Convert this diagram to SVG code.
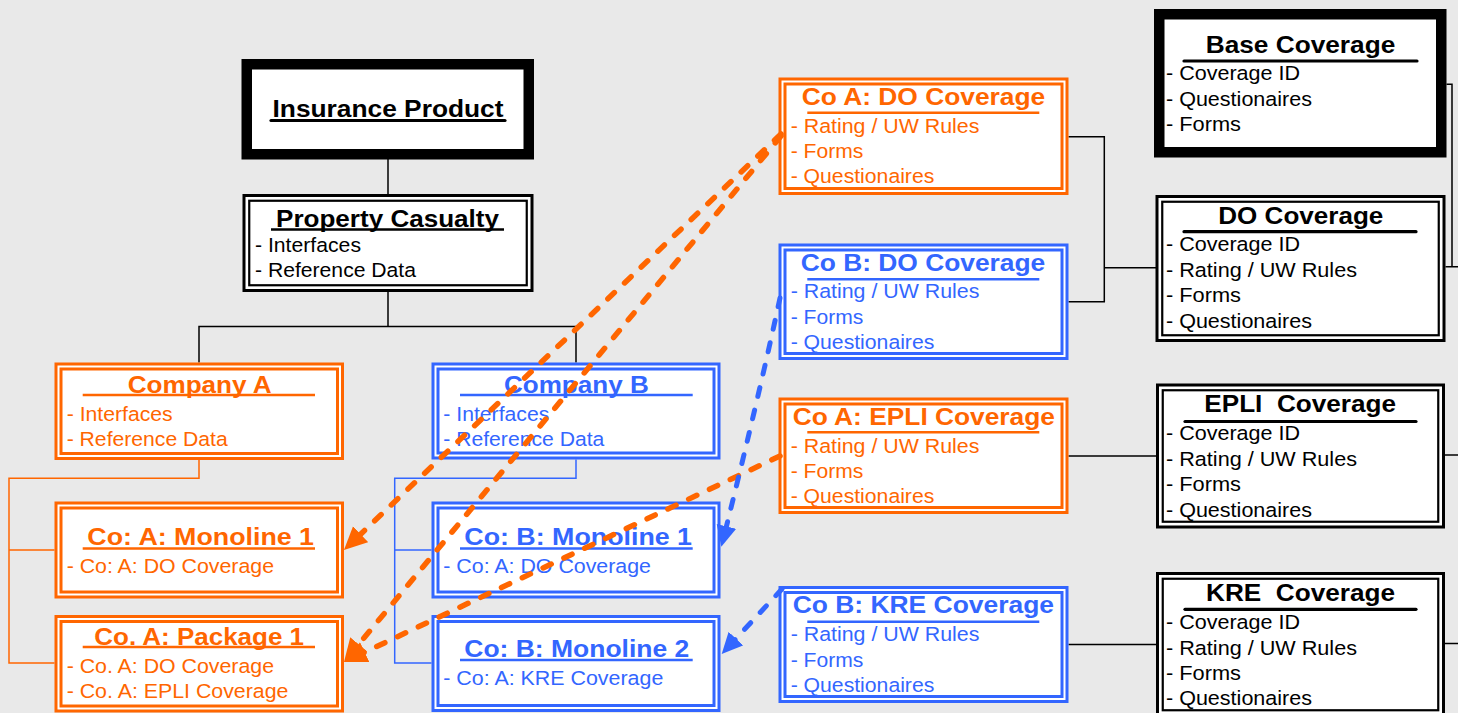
<svg xmlns="http://www.w3.org/2000/svg" width="1458" height="713" viewBox="0 0 1458 713">
  <style>
    text { font-family: "Liberation Sans", Arial, sans-serif; white-space: pre; }
    .ti { font-size: 24px; font-weight: bold; }
    .tc { font-size: 23.5px; font-weight: bold; }
    .bd { font-size: 20.5px; }
    .o { fill: #ff6600; }
    .b { fill: #3366ff; }
    .k { fill: #000; }
    .frO { fill: #fff; stroke: #ff6600; stroke-width: 3; }
    .inO { fill: none; stroke: #ff6600; stroke-width: 3; }
    .frB { fill: #fff; stroke: #3366ff; stroke-width: 3; }
    .inB { fill: none; stroke: #3366ff; stroke-width: 3; }
    .frK { fill: #fff; stroke: #000; stroke-width: 3; }
    .inK { fill: none; stroke: #000; stroke-width: 2.2; }
    .thick { fill: #fff; stroke: #000; stroke-width: 10.5; }
    .ulO { stroke: #ff6600; stroke-width: 2.4; }
    .ulB { stroke: #3366ff; stroke-width: 2.4; }
    .ulK { stroke: #000; stroke-width: 3.2; stroke-linecap: round; }
    .cn { fill: none; stroke: #000; stroke-width: 1.5; }
    .cnO { fill: none; stroke: #ff6600; stroke-width: 1.5; }
    .cnB { fill: none; stroke: #3366ff; stroke-width: 1.5; }
    .dO { fill: none; stroke: #ff6600; stroke-width: 5.5; stroke-dasharray: 9 14; stroke-linecap: round; }
    .dB { fill: none; stroke: #3366ff; stroke-width: 5; stroke-dasharray: 9 14; stroke-linecap: round; }
  </style>
  <defs>
    <marker id="arrO" markerUnits="userSpaceOnUse" markerWidth="24" markerHeight="24" refX="13" refY="11" orient="auto">
      <path d="M0,0 L23,11 L0,22 z" fill="#ff6600"/>
    </marker>
    <marker id="arrB" markerUnits="userSpaceOnUse" markerWidth="24" markerHeight="24" refX="12" refY="10" orient="auto">
      <path d="M0,0 L21,10 L0,20 z" fill="#3366ff"/>
    </marker>
  </defs>

  <rect width="1458" height="713" fill="#e9e9e9"/>

  <!-- tree and coverage connectors -->
  <g id="connectors">
    <path class="cn" d="M388,159 V194"/>
    <path class="cn" d="M388,292 V326.5 M199,362.5 V326.5 H576 V362.5"/>
    <path class="cnO" d="M199,460 V478.3 H9 V663 H54.5 M9,550 H54.5"/>
    <path class="cnB" d="M576,459.5 V478.3 H394.7 V663 H431.5 M394.7,550 H431.5"/>
    <path class="cn" d="M1068.5,136.7 H1104.3 V301.7 H1068.5"/>
    <path class="cn" d="M1104.3,267.7 H1156" stroke-width="2"/>
    <path class="cn" d="M1068.5,456 H1156"/>
    <path class="cn" d="M1068.5,644.5 H1156"/>
    <path class="cn" d="M1446.5,84.3 H1452 V266.7 M1445.5,266.7 H1458"/>
    <path class="cn" d="M1445,455 H1458"/>
    <path class="cn" d="M1445,643.5 H1458"/>
  </g>

  <g id="insurance-product">
    <rect class="thick" x="246.75" y="64.25" width="282" height="90"/>
    <text class="ti k" x="272.5" y="117" textLength="231" lengthAdjust="spacingAndGlyphs">Insurance Product</text>
    <line class="ulK" x1="271" y1="120.5" x2="505" y2="120.5"/>
  </g>

  <g id="property-casualty">
    <rect class="frK" x="244" y="195.5" width="288" height="95"/>
    <rect class="inK" x="249.25" y="200.75" width="277.5" height="84.5"/>
    <text class="ti k" x="276" y="227" textLength="223" lengthAdjust="spacingAndGlyphs">Property Casualty</text>
    <line stroke="#000" stroke-width="2.4" x1="271" y1="229.5" x2="504" y2="229.5"/>
    <text class="bd k" x="255" y="252" textLength="106" lengthAdjust="spacingAndGlyphs" font-size="19">- Interfaces</text>
    <text class="bd k" x="255" y="277" textLength="161" lengthAdjust="spacingAndGlyphs" font-size="19">- Reference Data</text>
  </g>

  <g id="company-a">
    <rect class="frO" x="56" y="364" width="286.5" height="94.5"/>
    <rect class="inO" x="61" y="369" width="276.5" height="84.5"/>
    <text class="ti o" x="127.7" y="392.7" textLength="144" lengthAdjust="spacingAndGlyphs">Company A</text>
    <line class="ulO" x1="82.7" y1="395" x2="315" y2="395"/>
    <text class="bd o" x="66.7" y="420.7" textLength="106" lengthAdjust="spacingAndGlyphs">- Interfaces</text>
    <text class="bd o" x="66.7" y="446" textLength="161" lengthAdjust="spacingAndGlyphs">- Reference Data</text>
  </g>

  <g id="company-b">
    <rect class="frB" x="433" y="364" width="286" height="94"/>
    <rect class="inB" x="438" y="369" width="276" height="84"/>
    <text class="ti b" x="504" y="392.7" textLength="144.7" lengthAdjust="spacingAndGlyphs">Company B</text>
    <line class="ulB" x1="460" y1="395" x2="692.7" y2="395"/>
    <text class="bd b" x="443.3" y="420.7" textLength="106" lengthAdjust="spacingAndGlyphs">- Interfaces</text>
    <text class="bd b" x="443.3" y="446" textLength="161" lengthAdjust="spacingAndGlyphs">- Reference Data</text>
  </g>

  <g id="co-a-monoline-1">
    <rect class="frO" x="56" y="503" width="286.5" height="94"/>
    <rect class="inO" x="61" y="508" width="276.5" height="84"/>
    <text class="ti o" x="87.3" y="545" textLength="226.7" lengthAdjust="spacingAndGlyphs">Co: A: Monoline 1</text>
    <line class="ulO" x1="82.7" y1="548.5" x2="315" y2="548.5"/>
    <text class="bd o" x="66.7" y="572.7" textLength="207.3" lengthAdjust="spacingAndGlyphs">- Co: A: DO Coverage</text>
  </g>

  <g id="co-a-package-1">
    <rect class="frO" x="56" y="616.5" width="286.5" height="94.5"/>
    <rect class="inO" x="61" y="621.5" width="276.5" height="84.5"/>
    <text class="ti o" x="94.3" y="644.5" textLength="209.7" lengthAdjust="spacingAndGlyphs">Co. A: Package 1</text>
    <line class="ulO" x1="82.7" y1="647" x2="315" y2="647"/>
    <text class="bd o" x="66.7" y="672.7" textLength="207.3" lengthAdjust="spacingAndGlyphs">- Co. A: DO Coverage</text>
    <text class="bd o" x="66.7" y="698.3" textLength="221.7" lengthAdjust="spacingAndGlyphs">- Co. A: EPLI Coverage</text>
  </g>

  <g id="co-b-monoline-1">
    <rect class="frB" x="433" y="503" width="286" height="94"/>
    <rect class="inB" x="438" y="508" width="276" height="84"/>
    <text class="ti b" x="464.3" y="545" textLength="227.7" lengthAdjust="spacingAndGlyphs">Co: B: Monoline 1</text>
    <line class="ulB" x1="460" y1="548.5" x2="692.7" y2="548.5"/>
    <text class="bd b" x="443.3" y="572.7" textLength="207.7" lengthAdjust="spacingAndGlyphs">- Co: A: DO Coverage</text>
  </g>

  <g id="co-b-monoline-2">
    <rect class="frB" x="433" y="616.5" width="286" height="94"/>
    <rect class="inB" x="438" y="621.5" width="276" height="84"/>
    <text class="ti b" x="464.3" y="657" textLength="225" lengthAdjust="spacingAndGlyphs">Co: B: Monoline 2</text>
    <line class="ulB" x1="460" y1="660" x2="692.7" y2="660"/>
    <text class="bd b" x="443.3" y="685" textLength="220" lengthAdjust="spacingAndGlyphs">- Co: A: KRE Coverage</text>
  </g>

  <g id="co-a-do-coverage">
    <rect class="frO" x="780" y="79" width="287" height="114.5"/>
    <rect class="inO" x="785" y="84" width="277" height="104.5"/>
    <text class="tc o" x="801.7" y="105" textLength="243.6" lengthAdjust="spacingAndGlyphs">Co A: DO Coverage</text>
    <line class="ulO" x1="807.3" y1="112.7" x2="1039.3" y2="112.7"/>
    <text class="bd o" x="790.7" y="132.7" textLength="188.7" lengthAdjust="spacingAndGlyphs">- Rating / UW Rules</text>
    <text class="bd o" x="790.7" y="158.3" textLength="72.6" lengthAdjust="spacingAndGlyphs">- Forms</text>
    <text class="bd o" x="790.7" y="183.3" textLength="143.6" lengthAdjust="spacingAndGlyphs">- Questionaires</text>
  </g>

  <g id="co-b-do-coverage">
    <rect class="frB" x="780" y="245" width="287" height="113.5"/>
    <rect class="inB" x="785" y="250" width="277" height="103.5"/>
    <text class="tc b" x="800.7" y="271" textLength="244.6" lengthAdjust="spacingAndGlyphs">Co B: DO Coverage</text>
    <line class="ulB" x1="807.3" y1="279.3" x2="1039.3" y2="279.3"/>
    <text class="bd b" x="790.7" y="298.3" textLength="188.7" lengthAdjust="spacingAndGlyphs">- Rating / UW Rules</text>
    <text class="bd b" x="790.7" y="324" textLength="72.6" lengthAdjust="spacingAndGlyphs">- Forms</text>
    <text class="bd b" x="790.7" y="349.3" textLength="143.6" lengthAdjust="spacingAndGlyphs">- Questionaires</text>
  </g>

  <g id="co-a-epli-coverage">
    <rect class="frO" x="780" y="399" width="287" height="113.5"/>
    <rect class="inO" x="785" y="404" width="277" height="103.5"/>
    <text class="tc o" x="792.7" y="425" textLength="262.3" lengthAdjust="spacingAndGlyphs">Co A: EPLI Coverage</text>
    <line class="ulO" x1="807.3" y1="432.3" x2="1039.3" y2="432.3"/>
    <text class="bd o" x="790.7" y="452.7" textLength="188.7" lengthAdjust="spacingAndGlyphs">- Rating / UW Rules</text>
    <text class="bd o" x="790.7" y="477.7" textLength="72.6" lengthAdjust="spacingAndGlyphs">- Forms</text>
    <text class="bd o" x="790.7" y="503.3" textLength="143.6" lengthAdjust="spacingAndGlyphs">- Questionaires</text>
  </g>

  <g id="co-b-kre-coverage">
    <rect class="frB" x="780" y="587.5" width="287" height="114"/>
    <rect class="inB" x="785" y="592.5" width="277" height="104"/>
    <text class="tc b" x="792.7" y="613.3" textLength="261.3" lengthAdjust="spacingAndGlyphs">Co B: KRE Coverage</text>
    <line class="ulB" x1="807.3" y1="621.7" x2="1039.3" y2="621.7"/>
    <text class="bd b" x="790.7" y="640.7" textLength="188.7" lengthAdjust="spacingAndGlyphs">- Rating / UW Rules</text>
    <text class="bd b" x="790.7" y="666.7" textLength="72.6" lengthAdjust="spacingAndGlyphs">- Forms</text>
    <text class="bd b" x="790.7" y="691.7" textLength="143.6" lengthAdjust="spacingAndGlyphs">- Questionaires</text>
  </g>

  <g id="base-coverage">
    <rect class="thick" x="1159.25" y="14.25" width="282" height="138"/>
    <text class="ti k" x="1205.7" y="53.3" font-size="25" textLength="189.6" lengthAdjust="spacingAndGlyphs">Base Coverage</text>
    <line class="ulK" x1="1184" y1="61" x2="1417" y2="61" stroke-width="3.6"/>
    <text class="bd k" x="1166" y="80" textLength="134" lengthAdjust="spacingAndGlyphs">- Coverage ID</text>
    <text class="bd k" x="1166" y="105.5" textLength="146" lengthAdjust="spacingAndGlyphs">- Questionaires</text>
    <text class="bd k" x="1166" y="131" textLength="75" lengthAdjust="spacingAndGlyphs">- Forms</text>
  </g>

  <g id="do-coverage">
    <rect class="frK" x="1157" y="196.5" width="287" height="144"/>
    <rect class="inK" x="1162.25" y="201.75" width="276.5" height="133.5"/>
    <text class="ti k" x="1218.3" y="224" textLength="165" lengthAdjust="spacingAndGlyphs">DO Coverage</text>
    <line class="ulK" x1="1184" y1="231.7" x2="1416" y2="231.7"/>
    <text class="bd k" x="1166" y="251" textLength="134" lengthAdjust="spacingAndGlyphs">- Coverage ID</text>
    <text class="bd k" x="1166" y="277" textLength="191" lengthAdjust="spacingAndGlyphs">- Rating / UW Rules</text>
    <text class="bd k" x="1166" y="302" textLength="75" lengthAdjust="spacingAndGlyphs">- Forms</text>
    <text class="bd k" x="1166" y="327.5" textLength="146" lengthAdjust="spacingAndGlyphs">- Questionaires</text>
  </g>

  <g id="epli-coverage">
    <rect class="frK" x="1157.5" y="385" width="286" height="142"/>
    <rect class="inK" x="1162.75" y="390.25" width="275.5" height="131.5"/>
    <text class="ti k" x="1204.3" y="411.7" textLength="191.7" lengthAdjust="spacingAndGlyphs">EPLI  Coverage</text>
    <line class="ulK" x1="1185" y1="421.5" x2="1416" y2="421.5"/>
    <text class="bd k" x="1166" y="440" textLength="134" lengthAdjust="spacingAndGlyphs">- Coverage ID</text>
    <text class="bd k" x="1166" y="465.5" textLength="191" lengthAdjust="spacingAndGlyphs">- Rating / UW Rules</text>
    <text class="bd k" x="1166" y="491" textLength="75" lengthAdjust="spacingAndGlyphs">- Forms</text>
    <text class="bd k" x="1166" y="516.5" textLength="146" lengthAdjust="spacingAndGlyphs">- Questionaires</text>
  </g>

  <g id="kre-coverage">
    <rect class="frK" x="1157.5" y="573.5" width="286" height="142"/>
    <rect class="inK" x="1162.75" y="578.75" width="275.5" height="131.5"/>
    <text class="ti k" x="1206" y="601" textLength="189" lengthAdjust="spacingAndGlyphs">KRE  Coverage</text>
    <line class="ulK" x1="1185" y1="609.3" x2="1416" y2="609.3"/>
    <text class="bd k" x="1166" y="629" textLength="134" lengthAdjust="spacingAndGlyphs">- Coverage ID</text>
    <text class="bd k" x="1166" y="654.5" textLength="191" lengthAdjust="spacingAndGlyphs">- Rating / UW Rules</text>
    <text class="bd k" x="1166" y="680" textLength="75" lengthAdjust="spacingAndGlyphs">- Forms</text>
    <text class="bd k" x="1166" y="705" textLength="146" lengthAdjust="spacingAndGlyphs">- Questionaires</text>
  </g>

  <!-- dashed usage links drawn over the boxes -->
  <g id="usage-links">
    <path class="dO" d="M781,134 L351.2,543.1" marker-end="url(#arrO)"/>
    <path class="dO" d="M781,136 L350.4,654.3" marker-end="url(#arrO)"/>
    <path class="dO" d="M780,456 L353,657.7" marker-end="url(#arrO)"/>
    <path class="dB" d="M780,298 Q758,400 723.5,538" marker-end="url(#arrB)"/>
    <path class="dB" d="M782,589 L727.8,647.4" marker-end="url(#arrB)"/>
  </g>
</svg>
